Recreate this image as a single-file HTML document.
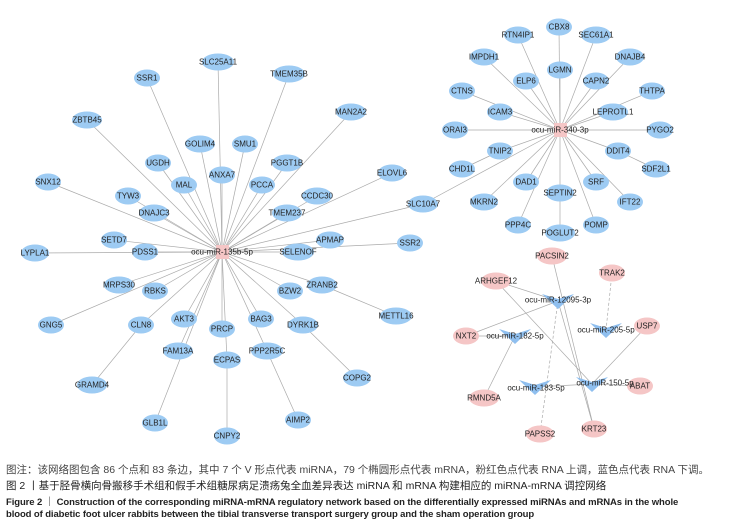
<!DOCTYPE html>
<html><head><meta charset="utf-8"><style>
html,body{margin:0;padding:0;background:#fff;width:739px;height:529px;overflow:hidden}
svg text{font-family:"Liberation Sans",sans-serif;font-size:8px;fill:#222;text-anchor:middle;dominant-baseline:central}
.cap{position:absolute;left:6px;font-family:"Liberation Sans","Noto Sans CJK SC",sans-serif;color:#333;white-space:nowrap}
</style></head><body>
<svg width="739" height="529" style="position:absolute;left:0;top:0">
<g stroke="#aaa" stroke-width="0.7">
<line x1="222" y1="252" x2="218" y2="62"/><line x1="222" y1="252" x2="147" y2="78"/><line x1="222" y1="252" x2="289" y2="74"/>
<line x1="222" y1="252" x2="87" y2="120"/><line x1="222" y1="252" x2="351" y2="112"/><line x1="222" y1="252" x2="200" y2="144"/>
<line x1="222" y1="252" x2="245" y2="144"/><line x1="222" y1="252" x2="158" y2="163"/><line x1="222" y1="252" x2="287" y2="163"/>
<line x1="222" y1="252" x2="222" y2="175"/><line x1="222" y1="252" x2="48" y2="182"/><line x1="222" y1="252" x2="184" y2="185"/>
<line x1="222" y1="252" x2="262" y2="185"/><line x1="222" y1="252" x2="392" y2="173"/><line x1="222" y1="252" x2="128" y2="196"/>
<line x1="222" y1="252" x2="317" y2="196"/><line x1="222" y1="252" x2="154" y2="213"/><line x1="222" y1="252" x2="287" y2="213"/>
<line x1="222" y1="252" x2="423" y2="204"/><line x1="222" y1="252" x2="114" y2="240"/><line x1="222" y1="252" x2="330" y2="240"/>
<line x1="222" y1="252" x2="410" y2="243"/><line x1="222" y1="252" x2="35" y2="253"/><line x1="222" y1="252" x2="145" y2="252"/>
<line x1="222" y1="252" x2="298" y2="252"/><line x1="222" y1="252" x2="119" y2="285"/><line x1="222" y1="252" x2="155" y2="291"/>
<line x1="222" y1="252" x2="290" y2="291"/><line x1="222" y1="252" x2="322" y2="285"/><line x1="322" y1="285" x2="396" y2="316"/>
<line x1="222" y1="252" x2="51" y2="325"/><line x1="222" y1="252" x2="141" y2="325"/><line x1="222" y1="252" x2="184" y2="319"/>
<line x1="222" y1="252" x2="222" y2="329"/><line x1="222" y1="252" x2="261" y2="319"/><line x1="222" y1="252" x2="303" y2="325"/>
<line x1="222" y1="252" x2="178" y2="351"/><line x1="222" y1="252" x2="227" y2="360"/><line x1="222" y1="252" x2="267" y2="351"/>
<line x1="141" y1="325" x2="92" y2="385"/><line x1="303" y1="325" x2="357" y2="378"/><line x1="222" y1="252" x2="155" y2="423"/>
<line x1="267" y1="351" x2="298" y2="420"/><line x1="227" y1="360" x2="227" y2="436"/>
<line x1="560" y1="130" x2="559" y2="27"/><line x1="560" y1="130" x2="518" y2="35"/><line x1="560" y1="130" x2="596" y2="35"/>
<line x1="560" y1="130" x2="484" y2="57"/><line x1="560" y1="130" x2="630" y2="57"/><line x1="560" y1="130" x2="560" y2="70"/>
<line x1="560" y1="130" x2="526" y2="81"/><line x1="560" y1="130" x2="596" y2="81"/><line x1="560" y1="130" x2="462" y2="91"/>
<line x1="560" y1="130" x2="652" y2="91"/><line x1="560" y1="130" x2="500" y2="112"/><line x1="560" y1="130" x2="613" y2="112"/>
<line x1="560" y1="130" x2="455" y2="130"/><line x1="560" y1="130" x2="660" y2="130"/><line x1="560" y1="130" x2="500" y2="151"/>
<line x1="560" y1="130" x2="618" y2="151"/><line x1="500" y1="151" x2="462" y2="169"/><line x1="618" y1="151" x2="656" y2="169"/>
<line x1="560" y1="130" x2="526" y2="182"/><line x1="560" y1="130" x2="596" y2="182"/><line x1="560" y1="130" x2="560" y2="193"/>
<line x1="560" y1="130" x2="484" y2="202"/><line x1="560" y1="130" x2="630" y2="202"/><line x1="560" y1="130" x2="518" y2="225"/>
<line x1="560" y1="130" x2="596" y2="225"/><line x1="560" y1="193" x2="560" y2="233"/><line x1="560" y1="130" x2="423" y2="204"/>
<line x1="496" y1="281" x2="558" y2="301"/><line x1="496" y1="281" x2="592" y2="384"/><line x1="552" y1="256" x2="594" y2="429"/>
<line x1="558" y1="301" x2="594" y2="429"/><line x1="558" y1="301" x2="540" y2="434" stroke-dasharray="3,2"/><line x1="558" y1="301" x2="466" y2="336"/>
<line x1="612" y1="273" x2="606" y2="330" stroke-dasharray="3,2"/><line x1="647" y1="326" x2="592" y2="384"/><line x1="515" y1="336" x2="484" y2="398"/>
<line x1="466" y1="336" x2="515" y2="336"/><line x1="592" y1="384" x2="640" y2="386"/><line x1="535" y1="387" x2="592" y2="384"/>
</g>
<g fill="#9dcbf3">
<ellipse cx="218" cy="62" rx="16" ry="8.5"/><ellipse cx="147" cy="78" rx="13" ry="8.5"/><ellipse cx="289" cy="74" rx="16" ry="8.5"/>
<ellipse cx="87" cy="120" rx="15" ry="8.5"/><ellipse cx="351" cy="112" rx="15" ry="8.5"/><ellipse cx="200" cy="144" rx="15" ry="8.5"/>
<ellipse cx="245" cy="144" rx="13" ry="8.5"/><ellipse cx="158" cy="163" rx="13" ry="8.5"/><ellipse cx="287" cy="163" rx="15" ry="8.5"/>
<ellipse cx="222" cy="175" rx="13" ry="8.5"/><ellipse cx="48" cy="182" rx="13" ry="8.5"/><ellipse cx="184" cy="185" rx="13" ry="8.5"/>
<ellipse cx="262" cy="185" rx="13" ry="8.5"/><ellipse cx="392" cy="173" rx="14" ry="8.5"/><ellipse cx="128" cy="196" rx="13" ry="8.5"/>
<ellipse cx="317" cy="196" rx="15" ry="8.5"/><ellipse cx="154" cy="213" rx="15" ry="8.5"/><ellipse cx="287" cy="213" rx="15" ry="8.5"/>
<ellipse cx="423" cy="204" rx="15" ry="8.5"/><ellipse cx="114" cy="240" rx="13" ry="8.5"/><ellipse cx="330" cy="240" rx="14" ry="8.5"/>
<ellipse cx="410" cy="243" rx="13" ry="8.5"/><ellipse cx="35" cy="253" rx="14" ry="8.5"/><ellipse cx="145" cy="252" rx="13" ry="8.5"/>
<ellipse cx="298" cy="252" rx="16" ry="8.5"/><ellipse cx="119" cy="285" rx="15" ry="8.5"/><ellipse cx="155" cy="291" rx="13" ry="8.5"/>
<ellipse cx="290" cy="291" rx="13" ry="8.5"/><ellipse cx="322" cy="285" rx="15" ry="8.5"/><ellipse cx="396" cy="316" rx="16" ry="8.5"/>
<ellipse cx="51" cy="325" rx="13" ry="8.5"/><ellipse cx="141" cy="325" rx="13" ry="8.5"/><ellipse cx="184" cy="319" rx="13" ry="8.5"/>
<ellipse cx="222" cy="329" rx="13" ry="8.5"/><ellipse cx="261" cy="319" rx="13" ry="8.5"/><ellipse cx="303" cy="325" rx="15" ry="8.5"/>
<ellipse cx="178" cy="351" rx="15" ry="8.5"/><ellipse cx="227" cy="360" rx="14" ry="8.5"/><ellipse cx="267" cy="351" rx="16" ry="8.5"/>
<ellipse cx="92" cy="385" rx="15" ry="8.5"/><ellipse cx="357" cy="378" rx="14" ry="8.5"/><ellipse cx="155" cy="423" rx="13" ry="8.5"/>
<ellipse cx="298" cy="420" rx="13" ry="8.5"/><ellipse cx="227" cy="436" rx="13" ry="8.5"/>
<ellipse cx="559" cy="27" rx="13" ry="8.5"/><ellipse cx="518" cy="35" rx="14" ry="8.5"/><ellipse cx="596" cy="35" rx="15" ry="8.5"/>
<ellipse cx="484" cy="57" rx="14" ry="8.5"/><ellipse cx="630" cy="57" rx="14" ry="8.5"/><ellipse cx="560" cy="70" rx="13" ry="8.5"/>
<ellipse cx="526" cy="81" rx="13" ry="8.5"/><ellipse cx="596" cy="81" rx="13" ry="8.5"/><ellipse cx="462" cy="91" rx="13" ry="8.5"/>
<ellipse cx="652" cy="91" rx="13" ry="8.5"/><ellipse cx="500" cy="112" rx="13" ry="8.5"/><ellipse cx="613" cy="112" rx="15" ry="8.5"/>
<ellipse cx="455" cy="130" rx="13" ry="8.5"/><ellipse cx="660" cy="130" rx="13" ry="8.5"/><ellipse cx="500" cy="151" rx="13" ry="8.5"/>
<ellipse cx="618" cy="151" rx="13" ry="8.5"/><ellipse cx="462" cy="169" rx="13" ry="8.5"/><ellipse cx="656" cy="169" rx="14" ry="8.5"/>
<ellipse cx="526" cy="182" rx="13" ry="8.5"/><ellipse cx="596" cy="182" rx="13" ry="8.5"/><ellipse cx="560" cy="193" rx="14" ry="8.5"/>
<ellipse cx="484" cy="202" rx="14" ry="8.5"/><ellipse cx="630" cy="202" rx="13" ry="8.5"/><ellipse cx="518" cy="225" rx="13" ry="8.5"/>
<ellipse cx="596" cy="225" rx="13" ry="8.5"/><ellipse cx="560" cy="233" rx="15" ry="8.5"/>
</g>
<g fill="#f5c6c6">
<rect x="216" y="245" width="13" height="14"/><rect x="554" y="123" width="13" height="14"/>
<ellipse cx="552" cy="256" rx="15" ry="8.5"/><ellipse cx="612" cy="273" rx="13" ry="8.5"/><ellipse cx="496" cy="281" rx="15" ry="8.5"/>
<ellipse cx="647" cy="326" rx="13" ry="8.5"/><ellipse cx="466" cy="336" rx="13" ry="8.5"/><ellipse cx="640" cy="386" rx="13" ry="8.5"/>
<ellipse cx="484" cy="398" rx="15" ry="8.5"/><ellipse cx="540" cy="434" rx="14" ry="8.5"/><ellipse cx="594" cy="429" rx="13" ry="8.5"/>
</g>
<g fill="#8fbfef">
<polygon points="542,294 558,299 574,294 558,309"/><polygon points="590,323 606,328 622,323 606,338"/>
<polygon points="499,329 515,334 531,329 515,344"/><polygon points="576,377 592,382 608,377 592,392"/>
<polygon points="519,380 535,385 551,380 535,395"/>
</g>
<g>
<text x="218" y="62">SLC25A11</text><text x="147" y="78">SSR1</text><text x="289" y="74">TMEM35B</text>
<text x="87" y="120">ZBTB45</text><text x="351" y="112">MAN2A2</text><text x="200" y="144">GOLIM4</text>
<text x="245" y="144">SMU1</text><text x="158" y="163">UGDH</text><text x="287" y="163">PGGT1B</text>
<text x="222" y="175">ANXA7</text><text x="48" y="182">SNX12</text><text x="184" y="185">MAL</text>
<text x="262" y="185">PCCA</text><text x="392" y="173">ELOVL6</text><text x="128" y="196">TYW3</text>
<text x="317" y="196">CCDC30</text><text x="154" y="213">DNAJC3</text><text x="287" y="213">TMEM237</text>
<text x="423" y="204">SLC10A7</text><text x="114" y="240">SETD7</text><text x="330" y="240">APMAP</text>
<text x="410" y="243">SSR2</text><text x="35" y="253">LYPLA1</text><text x="145" y="252">PDSS1</text>
<text x="298" y="252">SELENOF</text><text x="119" y="285">MRPS30</text><text x="155" y="291">RBKS</text>
<text x="290" y="291">BZW2</text><text x="322" y="285">ZRANB2</text><text x="396" y="316">METTL16</text>
<text x="51" y="325">GNG5</text><text x="141" y="325">CLN8</text><text x="184" y="319">AKT3</text>
<text x="222" y="329">PRCP</text><text x="261" y="319">BAG3</text><text x="303" y="325">DYRK1B</text>
<text x="178" y="351">FAM13A</text><text x="227" y="360">ECPAS</text><text x="267" y="351">PPP2R5C</text>
<text x="92" y="385">GRAMD4</text><text x="357" y="378">COPG2</text><text x="155" y="423">GLB1L</text>
<text x="298" y="420">AIMP2</text><text x="227" y="436">CNPY2</text>
<text x="222" y="252">ocu-miR-135b-5p</text><text x="560" y="130">ocu-miR-340-3p</text>
<text x="559" y="27">CBX8</text><text x="518" y="35">RTN4IP1</text><text x="596" y="35">SEC61A1</text>
<text x="484" y="57">IMPDH1</text><text x="630" y="57">DNAJB4</text><text x="560" y="70">LGMN</text>
<text x="526" y="81">ELP6</text><text x="596" y="81">CAPN2</text><text x="462" y="91">CTNS</text>
<text x="652" y="91">THTPA</text><text x="500" y="112">ICAM3</text><text x="613" y="112">LEPROTL1</text>
<text x="455" y="130">ORAI3</text><text x="660" y="130">PYGO2</text><text x="500" y="151">TNIP2</text>
<text x="618" y="151">DDIT4</text><text x="462" y="169">CHD1L</text><text x="656" y="169">SDF2L1</text>
<text x="526" y="182">DAD1</text><text x="596" y="182">SRF</text><text x="560" y="193">SEPTIN2</text>
<text x="484" y="202">MKRN2</text><text x="630" y="202">IFT22</text><text x="518" y="225">PPP4C</text>
<text x="596" y="225">POMP</text><text x="560" y="233">POGLUT2</text>
<text x="552" y="256">PACSIN2</text><text x="612" y="273">TRAK2</text><text x="496" y="281">ARHGEF12</text>
<text x="647" y="326">USP7</text><text x="466" y="336">NXT2</text><text x="640" y="386">ABAT</text>
<text x="484" y="398">RMND5A</text><text x="540" y="434">PAPSS2</text><text x="594" y="429">KRT23</text>
<text x="558" y="300">ocu-miR-12095-3p</text><text x="606" y="330">ocu-miR-205-5p</text>
<text x="515" y="336">ocu-miR-182-5p</text><text x="605" y="383">ocu-miR-150-5p</text>
<text x="536" y="388">ocu-miR-183-5p</text>
</g>
</svg>
<div class="cap" style="top:462px;font-size:10.5px;color:#444">图注：该网络图包含 86 个点和 83 条边，其中 7 个 V 形点代表 miRNA，79 个椭圆形点代表 mRNA，粉红色点代表 RNA 上调，蓝色点代表 RNA 下调。</div>
<div class="cap" style="top:478px;font-size:10.5px;color:#222">图 2 丨基于胫骨横向骨搬移手术组和假手术组糖尿病足溃疡兔全血差异表达 miRNA 和 mRNA 构建相应的 miRNA-mRNA 调控网络</div>
<div class="cap" style="top:494px;font-size:9.5px;font-weight:bold;color:#222;letter-spacing:-0.1px">Figure 2 ｜ Construction of the corresponding miRNA-mRNA regulatory network based on the differentially expressed miRNAs and mRNAs in the whole</div>
<div class="cap" style="top:509px;font-size:9.5px;font-weight:bold;color:#222;letter-spacing:-0.1px">blood of diabetic foot ulcer rabbits between the tibial transverse transport surgery group and the sham operation group</div>
</body></html>
